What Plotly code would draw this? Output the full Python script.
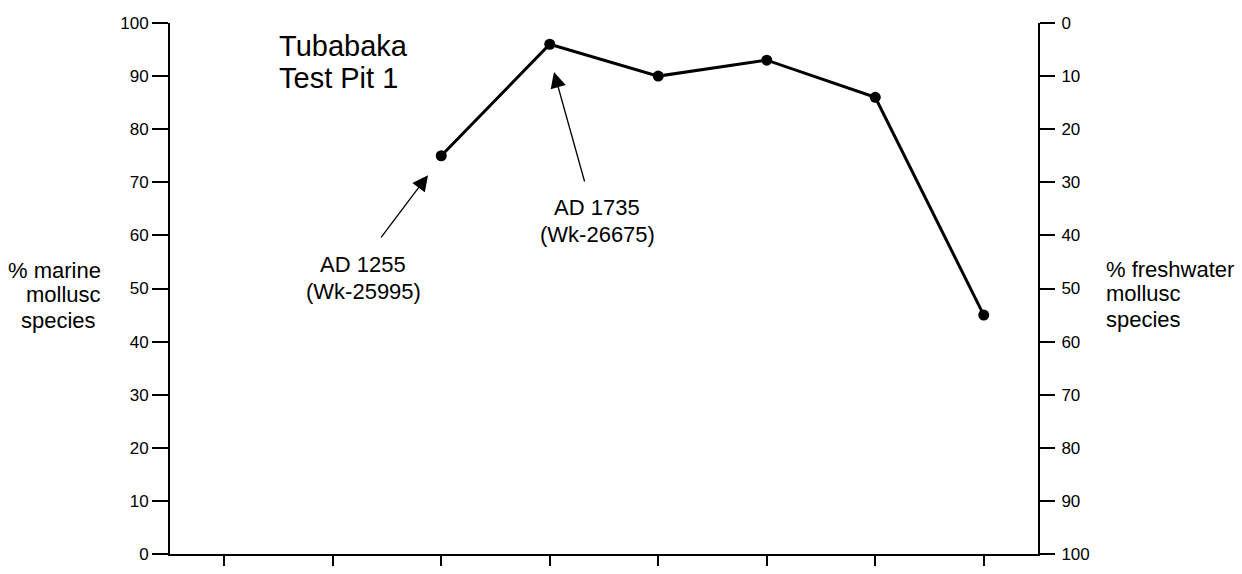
import plotly.graph_objects as go

# ---- data ----
positions = [1, 2, 3, 4, 5, 6, 7, 8]
marine_pct = [None, None, 75, 96, 90, 93, 86, 45]
freshwater_pct = [None if v is None else 100 - v for v in marine_pct]
left_ticks = [0, 10, 20, 30, 40, 50, 60, 70, 80, 90, 100]
right_ticks = [0, 10, 20, 30, 40, 50, 60, 70, 80, 90, 100]

FONT = "Liberation Sans, Arial, Helvetica, sans-serif"
W, H = 1242, 574
L, R, T, B = 170, 204, 23, 10
PW, PH = W - L - R, H - T - B


def px2x(px):
    return 0.5 + (px - L) / PW * 8.0


def py2y(py):
    return (H - B - py) / PH * 100.0


def ppx(px):
    return (px - L) / PW


def ppy(py):
    return (H - B - py) / PH


fig = go.Figure()
fig.add_trace(go.Scatter(
    x=positions, y=marine_pct, mode="lines+markers",
    line=dict(color="black", width=3),
    marker=dict(color="black", size=11),
    connectgaps=False, hoverinfo="skip", showlegend=False,
))
fig.add_trace(go.Scatter(
    x=positions, y=freshwater_pct, mode="markers", yaxis="y2",
    marker=dict(opacity=0), hoverinfo="skip", showlegend=False,
))

axis_common = dict(
    showgrid=False, zeroline=False, showline=True, linecolor="black",
    linewidth=2, ticks="outside", tickcolor="black", tickwidth=2,
    tickfont=dict(family=FONT, size=17, color="black"),
)

fig.update_layout(
    width=W, height=H,
    margin=dict(l=L, r=R, t=T, b=B, pad=0),
    paper_bgcolor="white", plot_bgcolor="white",
    font=dict(family=FONT, color="black"),
    xaxis=dict(axis_common, range=[0.5, 8.5], tickvals=positions,
               showticklabels=False, ticklen=10),
    yaxis=dict(axis_common, range=[0, 100], tickvals=left_ticks, ticklen=16),
    yaxis2=dict(axis_common, range=[100, 0], tickvals=right_ticks, ticklen=15,
                ticklabelstandoff=3,
                overlaying="y", side="right", anchor="x"),
)

ann = []


def text(s, px, py, size, xanchor="left", yanchor="middle"):
    ann.append(dict(text=s, x=ppx(px), y=ppy(py), xref="paper", yref="paper",
                    xanchor=xanchor, yanchor=yanchor, showarrow=False,
                    font=dict(family=FONT, size=size, color="black")))


# title
text("Tubabaka", 277, 46, 29)
text("Test Pit 1", 277, 79, 29)
# left label
text("% marine", 103, 275, 22, xanchor="right")
text("mollusc", 103, 300, 22, xanchor="right")
text("species", 98, 326, 22, xanchor="right")
# right label
text("% freshwater", 1104, 274, 22)
text("mollusc", 1104, 299, 22)
text("species", 1104, 325, 22)
# dating labels
text("AD 1255", 363, 269, 22, xanchor="center")
text("(Wk-25995)", 363, 297, 22, xanchor="center")
text("AD 1735", 597, 211, 22, xanchor="center")
text("(Wk-26675)", 597, 238, 22, xanchor="center")

# arrows
for (tx, ty, hx, hy) in [(380, 243, 428, 178), (585, 186, 554, 73)]:
    ann.append(dict(text="", x=px2x(hx), y=py2y(hy), xref="x", yref="y",
                    ax=px2x(tx), ay=py2y(ty), axref="x", ayref="y",
                    showarrow=True, arrowhead=2, arrowsize=2.4, arrowwidth=1.3,
                    arrowcolor="black", standoff=0, startstandoff=0))

fig.update_layout(annotations=ann)
fig.write_html("out.html")
